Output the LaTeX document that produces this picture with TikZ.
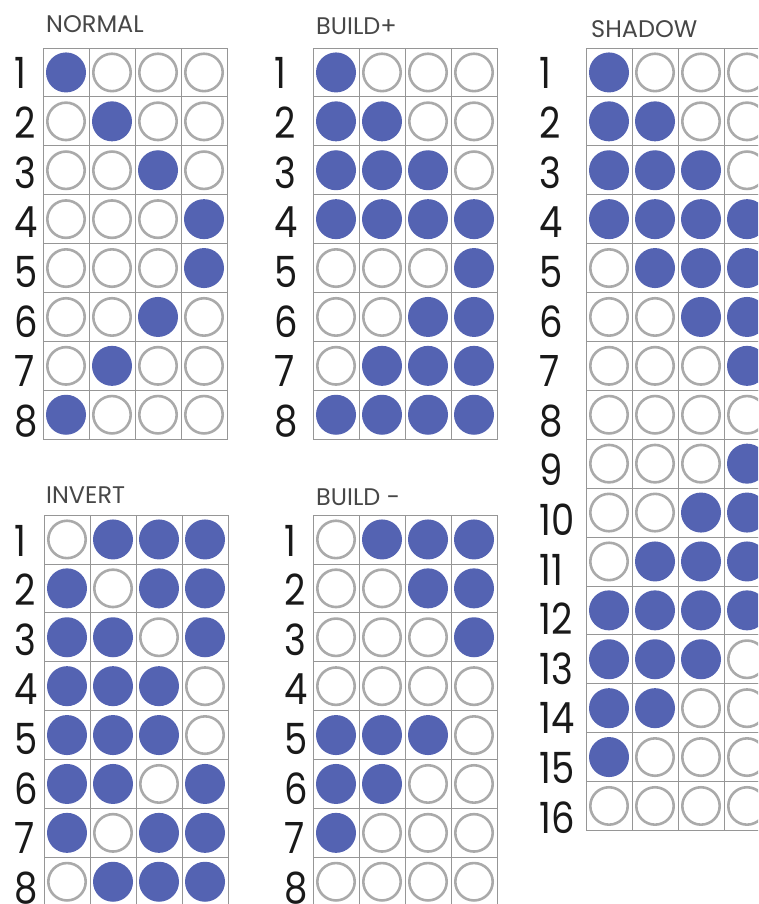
\documentclass[tikz,border=0pt]{standalone}
\usepackage{fontspec}
\setmainfont{Poppins}
\newfontfamily\numfont[FakeStretch=0.86]{Poppins}
\definecolor{fg}{RGB}{25,25,25}
\definecolor{lampon}{RGB}{84,99,178}
\definecolor{gridline}{RGB}{150,150,150}
\definecolor{ringgray}{RGB}{170,170,170}
\tikzstyle{cell}=[draw=gridline, line width=0.8pt]
\tikzstyle{lamp0}=[circle, draw=ringgray, line width=2.6pt, fill=white,
  minimum size=37.4pt, inner sep=0pt]
\tikzstyle{lamp1}=[circle, fill=lampon, minimum size=40pt, inner sep=0pt]
\tikzstyle{num}=[anchor=base west, inner sep=0pt, text=fg,
  font=\numfont\fontsize{43}{43}\selectfont]
\tikzstyle{title}=[anchor=base west, inner sep=0pt, text=fg!80,
  font=\fontsize{24}{24}\selectfont]

% name, grid left, grid top, number left, rows of lamps
\newcommand{\lampgrid}[5]{%
  \foreach \bits [count=\rr] in {#5} {
    \foreach \bit [count=\kk] in \bits {
      \draw[cell] ({#2+(\kk-1)*46},{#3+(\rr-1)*48.9}) rectangle ++(46,48.9);
      \node[lamp\bit] (#1-\rr-\kk) at ({#2+(\kk-0.5)*46},{#3+(\rr-0.5)*48.9}) {};
    }
    \node[num] (#1-n\rr) at (#4,{#3+41+(\rr-1)*49.6}) {\rr};
  }
}

\begin{document}
\begin{tikzpicture}[x=1pt, y=-1pt]
    \path[use as bounding box, clip] (0,0) rectangle (758,904);

    \node[title] (normal-title) at (46,33) {NORMAL};
    \node[title] (buildp-title) at (316,35) {BUILD+};
    \node[title] (shadow-title) at (591,38) {SHADOW};
    \node[title] (invert-title) at (46,503) {INVERT};
    \node[title] (buildm-title) at (316,505) {BUILD -};

    \lampgrid{normal}{43}{48}{14}{{1,0,0,0},{0,1,0,0},{0,0,1,0},{0,0,0,1},
      {0,0,0,1},{0,0,1,0},{0,1,0,0},{1,0,0,0}}
    \lampgrid{buildp}{313}{48}{274}{{1,0,0,0},{1,1,0,0},{1,1,1,0},{1,1,1,1},
      {0,0,0,1},{0,0,1,1},{0,1,1,1},{1,1,1,1}}
    \lampgrid{shadow}{586}{48}{539}{{1,0,0,0},{1,1,0,0},{1,1,1,0},{1,1,1,1},
      {0,1,1,1},{0,0,1,1},{0,0,0,1},{0,0,0,0},{0,0,0,1},{0,0,1,1},
      {0,1,1,1},{1,1,1,1},{1,1,1,0},{1,1,0,0},{1,0,0,0},{0,0,0,0}}
    \lampgrid{invert}{44}{515}{14}{{0,1,1,1},{1,0,1,1},{1,1,0,1},{1,1,1,0},
      {1,1,1,0},{1,1,0,1},{1,0,1,1},{0,1,1,1}}
    \lampgrid{buildm}{313}{515}{284}{{0,1,1,1},{0,0,1,1},{0,0,0,1},{0,0,0,0},
      {1,1,1,0},{1,1,0,0},{1,0,0,0},{0,0,0,0}}
\end{tikzpicture}
\end{document}
